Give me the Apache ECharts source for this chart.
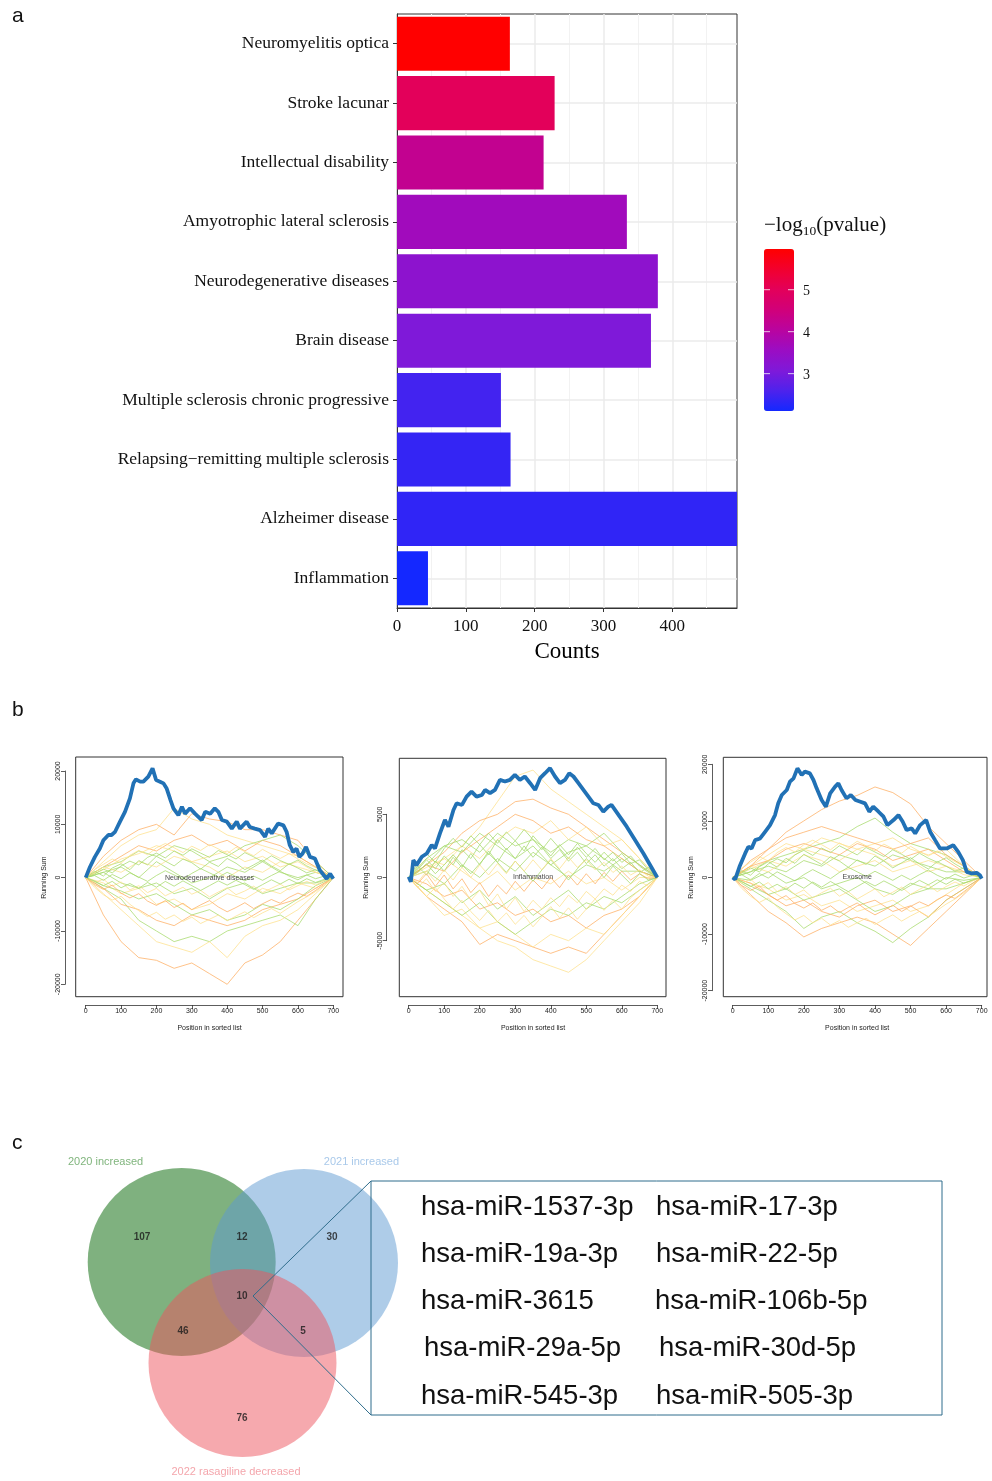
<!DOCTYPE html>
<html>
<head>
<meta charset="utf-8">
<script src="https://cdn.jsdelivr.net/npm/echarts@6/dist/echarts.min.js"></script>
<style>
  html, body { margin: 0; padding: 0; background: #fff; }
  #chart { width: 992px; height: 1481px; }
</style>
</head>
<body>
<div id="chart"></div>
<script>
// ---- panel a : disease enrichment ----
const categories = ['Neuromyelitis optica', 'Stroke lacunar', 'Intellectual disability',
  'Amyotrophic lateral sclerosis', 'Neurodegenerative diseases', 'Brain disease',
  'Multiple sclerosis chronic progressive', 'Relapsing\u2212remitting multiple sclerosis',
  'Alzheimer disease', 'Inflammation'];
const counts = [164, 229, 213, 334, 379, 369, 151, 165, 494, 45];
const logP = [5.97, 5.01, 4.23, 3.65, 3.31, 3.08, 2.50, 2.38, 2.34, 2.11];
const countTicks = [0, 100, 200, 300, 400];
const countMinor = [50, 150, 250, 350, 450];
const colorbarTicks = [5, 4, 3];
const fillStops = ['#1428FF', '#4E22EC', '#7F19D9', '#9B0DC3', '#B9049F', '#D10079', '#E3005A', '#F2002E', '#FF0000'];

// ---- panel b : running sums ----
const bgX = [0, 50, 100, 150, 200, 250, 300, 350, 400, 450, 500, 550, 600, 650, 700];
const fineX = [0, 25, 50, 75, 100, 125, 150, 175, 200, 225, 250, 275, 300, 325, 350, 375, 400,
  425, 450, 475, 500, 525, 550, 575, 600, 625, 650, 675, 700];
const setNames = ['Neurodegenerative diseases', 'Inflammation', 'Exosome'];

const neuroBlue = [[0,0],[5,-300],[12,2000],[26,3900],[40,5450],[50,7000],[64,8000],[73,8000],[83,8600],[97,10500],
  [111,12350],[125,14860],[135,17680],[142,18430],[154,18000],[163,18000],[177,18930],[189,20500],[199,18300],
  [210,18000],[220,17680],[229,16700],[240,14500],[248,13000],[262,11700],[272,13300],[281,12000],[295,13000],
  [309,12000],[328,10800],[338,12350],[352,12000],[365,13000],[375,12350],[385,10800],[399,10500],[413,9200],
  [427,10500],[436,9200],[455,10500],[464,9500],[478,9200],[493,8900],[507,7650],[516,9200],[526,8300],
  [544,10150],[559,9800],[568,8600],[577,6080],[587,4800],[596,5450],[604,3900],[613,4500],[623,5770],
  [634,3900],[648,3600],[662,1400],[681,-200],[691,750],[700,-200]];
const inflBlue = [[0,50],[6,-340],[13,1375],[22,980],[37,1640],[51,1900],[65,2570],[74,2300],[88,3490],[102,4550],
  [112,4020],[126,5340],[135,5870],[150,5740],[163,6400],[177,6800],[191,6400],[206,6530],[215,6930],[229,6670],
  [243,6930],[257,7720],[271,7590],[285,7720],[299,8120],[313,7720],[327,7990],[342,7460],[356,6930],[370,7860],
  [384,8250],[398,8650],[412,7990],[426,7460],[440,7720],[452,8250],[464,7990],[478,7460],[492,6930],[520,5870],
  [534,5740],[548,5210],[562,5610],[571,5740],[614,4020],[661,1900],[700,0]];
const exoBlue = [[0,0],[7,-350],[19,1890],[35,4250],[44,5430],[53,5130],[63,6600],[77,6900],[91,8080],[105,9260],
  [119,11030],[128,13100],[138,14570],[152,15460],[161,16930],[171,17520],[182,19290],[194,18110],[203,18700],
  [217,18400],[227,17230],[236,15750],[250,13690],[262,12510],[274,14870],[288,16050],[297,16640],[306,15460],
  [320,13980],[332,14570],[345,13690],[359,13390],[372,13100],[384,11620],[395,12510],[410,11620],[424,10740],
  [435,9260],[452,10150],[466,11030],[478,9850],[489,8380],[503,8670],[513,7790],[527,9260],[544,10150],
  [555,8080],[569,6600],[583,5130],[602,5130],[620,5720],[634,4540],[647,3070],[658,1000],[672,710],[686,830],
  [695,410],[700,-180]];

// coarse background walks (x = bgX)
const neuroBg = [
  [0,-7000,-12000,-15000,-15500,-17000,-16000,-18000,-20000,-16000,-14500,-12000,-8000,-4000,0],
  [0,3000,6000,8000,9000,13000,11000,10000,8000,7000,6000,5000,4000,2000,0],
  [0,4000,7000,9000,10000,8000,12000,11000,10500,9000,9000,8000,7000,3000,0],
  [0,-2000,-4000,-8000,-10000,-12000,-11000,-12000,-10000,-9000,-8000,-7000,-9000,-4000,0],
  [0,1000,2000,0,3000,1000,-1000,0,2000,1000,3000,1000,0,1000,0],
  [0,-1000,-3000,-2000,-5000,-4000,-6000,-5000,-3000,-4000,-2000,-3000,-1000,-2000,0],
  [0,2000,4000,6000,5000,7000,8000,6000,7000,5000,7000,6000,4000,2000,0],
  [0,2000,3000,5000,4000,6000,5000,3000,4000,6000,7000,8000,6000,3000,0],
  [0,-3000,-6000,-9000,-12000,-13000,-14000,-12000,-15000,-11000,-9000,-8000,-6000,-3000,0],
  [0,-2000,-5000,-6000,-8000,-9000,-7000,-8000,-9000,-8000,-6000,-5000,-4000,-2000,0],
  [0,1000,-1000,-2000,-1000,-3000,-2000,-4000,-2000,-1000,-3000,-2000,-1000,-1000,0],
  [0,2000,1000,3000,2000,4000,3000,2000,0,2000,1000,3000,2000,1000,0],
  [0,-1500,-2500,-4000,-3000,-5000,-7000,-6000,-8000,-7000,-5000,-6000,-4000,-1500,0],
  [0,1500,3500,4500,6000,5000,3000,4000,5000,3000,4000,2000,3000,1000,0]
];
const inflBg = [
  [0,800,1500,2500,4000,6000,8000,8500,7000,6000,5000,4000,3000,1500,0],
  [0,1000,2000,3500,4500,5000,6000,6200,5500,5000,4000,3000,2000,1000,0],
  [0,-1000,-2000,-3000,-4000,-5000,-5500,-6500,-7000,-7500,-6500,-5000,-3500,-2000,0],
  [0,-1500,-2500,-3500,-5300,-4500,-5000,-5500,-6000,-5500,-6000,-4500,-3000,-1500,0],
  [0,1000,2500,3000,2000,3500,2500,3000,2000,3000,2500,3500,2000,1000,0],
  [0,-1000,-500,-2000,-1000,-2500,-1500,-3000,-2000,-1000,-2500,-1500,-2000,-1000,0],
  [0,1500,1000,2500,1500,3000,4000,3500,4500,3000,4000,2500,3000,1500,0],
  [0,-500,-1500,-1000,-2500,-2000,-3000,-2500,-3500,-3000,-4000,-3000,-2500,-1500,0],
  [0,500,-500,1000,0,1500,500,2000,1000,0,1000,500,1500,500,0],
  [0,-1500,-3000,-2500,-4000,-3500,-4500,-5500,-4500,-5000,-4000,-4500,-3000,-1500,0],
  [0,1500,2500,2000,3500,2500,1500,2500,1000,2000,2500,1500,500,500,0],
  [0,1000,500,2000,3000,4000,5000,4500,3500,4000,3000,2500,1500,500,0],
  [0,-1000,-2000,-3000,-2000,-3500,-4500,-3500,-2500,-3000,-2000,-2500,-1500,-500,0],
  [0,500,1500,500,-500,500,-1000,0,-500,500,-500,0,-1000,0,0]
];
const exoBg = [
  [0,2000,5000,8000,10000,12000,13500,14500,16000,15000,13000,9000,6000,3000,0],
  [0,1000,3000,4000,5000,6000,7000,9000,10500,8000,6000,5000,4000,2000,0],
  [0,-3000,-6000,-8000,-10500,-9000,-8000,-7000,-8000,-10000,-12000,-9000,-6000,-3000,0],
  [0,-2000,-4000,-6000,-9000,-7000,-6000,-8000,-9500,-11500,-9000,-7000,-4000,-2000,0],
  [0,2000,4000,6000,5000,7000,6000,5000,6000,7000,5000,4000,5000,2000,0],
  [0,3000,5000,7000,8000,9000,8000,7000,6000,5000,6000,7000,4000,2000,0],
  [0,1000,2000,1000,3000,2000,4000,3000,2000,4000,3000,2000,1000,1000,0],
  [0,-1000,-2000,-4000,-3000,-5000,-4000,-6000,-5000,-4000,-6000,-5000,-3000,-1000,0],
  [0,-500,1000,-1000,0,-2000,-1000,0,-2000,-3000,-1000,-2000,0,-500,0],
  [0,-1000,-3000,-5000,-4000,-6000,-7000,-5000,-4000,-6000,-5000,-7000,-4000,-2000,0],
  [0,1500,3000,2000,4000,3000,1000,2000,3000,1000,2000,3000,2000,500,0],
  [0,-1500,-3000,-2000,-4000,-3000,-2000,-4000,-6000,-5000,-3000,-2000,-2000,-1000,0],
  [0,2000,1000,3000,5000,4000,3000,5000,4000,2000,3000,1000,2000,1000,0],
  [0,2000,3000,5000,6000,5000,4000,6000,5000,3000,4000,5000,3000,1000,0]
];
// finer background walks in the central band (x = fineX)
const neuroFine = [
  [0,1200,300,1800,2600,1500,3200,2400,4000,3100,2200,3500,2800,1600,2900,2100,3600,2700,1500,2400,3300,2200,1300,2600,1800,900,1500,600,0],
  [0,-900,-300,-1600,-800,-2300,-1500,-2800,-2000,-3400,-2600,-1800,-3100,-2400,-3600,-2700,-1900,-3200,-2500,-1600,-2800,-2000,-1200,-2300,-1500,-700,-1400,-500,0],
  [0,700,1600,900,2200,3100,2400,3800,4600,3700,5000,4200,5400,4600,3800,5100,4300,3500,4700,3900,3000,4100,3200,2500,3300,2200,1400,800,0],
  [0,-1300,-2200,-1400,-2900,-3800,-3000,-4400,-5200,-4300,-5600,-4800,-6000,-5100,-4300,-5500,-6400,-5600,-4700,-5800,-4900,-4100,-4800,-3700,-2900,-3500,-2400,-1200,0],
  [0,400,-500,600,-200,900,100,-700,400,1300,500,-300,800,1700,900,100,1000,200,-600,300,-500,400,1200,300,-400,500,-200,300,0],
  [0,1500,2500,3500,2700,4200,5100,4300,5600,6400,5600,4700,5900,5100,6200,5400,4500,5700,4900,4100,5300,4400,3600,4500,3500,2600,1900,900,0],
  [0,-600,-1500,-700,-1900,-1100,-2000,-900,-1800,-700,-1600,-600,-1500,-2400,-1500,-600,-1400,-500,-1300,-2200,-1300,-400,-1200,-300,-1100,-200,-900,-300,0],
  [0,-1800,-3200,-4200,-3500,-5000,-6200,-7300,-6500,-7800,-7000,-8200,-7400,-8600,-7800,-7000,-8100,-7200,-6400,-7500,-6600,-5800,-6700,-5600,-4500,-3600,-2600,-1400,0]
];
const inflFine = [
  [0,900,200,1300,500,1600,800,1900,1000,2100,1200,2300,1500,2500,1600,2400,1500,2200,1300,2000,1100,1800,900,1500,700,1200,400,800,0],
  [0,-800,-100,-1100,-400,-1500,-700,-1800,-1000,-2200,-1300,-2500,-1600,-2700,-1800,-2500,-1600,-2300,-1400,-2000,-1100,-1700,-900,-1400,-600,-1100,-300,-700,0],
  [0,600,1400,700,1700,1000,2200,1500,2600,1800,3000,2200,2900,2100,3300,2500,1700,2600,1800,2700,1900,1200,2000,1300,1900,1100,1400,600,0],
  [0,-500,300,-700,200,-900,-100,-1200,-400,-1500,-600,-1300,-300,-1100,-200,-900,0,-800,200,-600,300,-500,400,-300,500,-200,300,-100,0],
  [0,400,1100,300,1000,1800,1000,300,1100,1900,1200,400,1300,500,-300,600,1400,600,-200,700,1500,800,0,900,200,-500,300,-200,0],
  [0,-700,-1500,-800,-1700,-2500,-1800,-2700,-3400,-2600,-3500,-2800,-3700,-3000,-3900,-3100,-2300,-3200,-2400,-3300,-2500,-1700,-2600,-1800,-2500,-1600,-1000,-500,0],
  [0,1100,1900,1200,2300,3100,2400,3300,2600,3500,2700,3600,2900,3800,3000,2200,3100,2300,1500,2400,1600,2300,1400,2000,1200,1700,900,400,0],
  [0,-400,500,-300,600,-200,800,0,1000,200,1100,300,1300,500,1400,600,1500,700,1600,800,1400,600,1200,400,900,200,600,100,0]
];
const exoFine = [
  [0,1200,400,1900,2800,1800,3400,2500,4100,3200,2300,3700,2900,1800,3100,2300,3800,2900,1700,2600,3500,2400,1500,2800,2000,1100,1700,700,0],
  [0,-1000,-300,-1700,-900,-2500,-1600,-3000,-2200,-3600,-2700,-1900,-3300,-2500,-3800,-2900,-2000,-3400,-2600,-1700,-3000,-2100,-1300,-2500,-1600,-800,-1500,-600,0],
  [0,800,1700,1000,2400,3300,2600,4000,4800,3900,5200,4400,5600,4800,4000,5300,4500,3700,4900,4100,3200,4300,3400,2700,3500,2400,1500,900,0],
  [0,-1400,-2300,-1500,-3100,-4000,-3200,-4600,-5400,-4500,-5800,-5000,-6200,-5300,-4500,-5700,-6600,-5800,-4900,-6000,-5100,-4300,-5000,-3900,-3100,-3700,-2500,-1300,0],
  [0,500,-400,700,-100,1000,200,-600,500,1400,600,-200,900,1800,1000,200,1100,300,-500,400,-400,500,1300,400,-300,600,-100,400,0],
  [0,1600,2700,3700,2900,4400,5300,4500,5800,6600,5800,4900,6100,5300,6400,5600,4700,5900,5100,4300,5500,4600,3800,4700,3700,2800,2000,1000,0],
  [0,-700,-1600,-800,-2000,-1200,-2100,-1000,-1900,-800,-1700,-700,-1600,-2500,-1600,-700,-1500,-600,-1400,-2300,-1400,-500,-1300,-400,-1200,-300,-1000,-400,0],
  [0,-1900,-3300,-4400,-3600,-5200,-6400,-7500,-6700,-8000,-7200,-8400,-7600,-8800,-8000,-7200,-8300,-7400,-6600,-7700,-6800,-6000,-6900,-5800,-4700,-3800,-2700,-1500,0]
];
// colour class of each walk: o = orange, y = yellow, g = green
const neuroBgCls = ['o','y','o','g','g','y','o','g','y','o','g','y','g','y'];
const inflBgCls  = ['y','o','y','o','g','g','y','o','g','y','g','o','g','y'];
const exoBgCls   = ['o','g','o','g','y','o','g','y','g','o','y','g','y','o'];
const fineCls    = ['g','y','g','o','g','y','g','y'];

// ---- panel c : venn ----
const vennNames = ['2020 increased', '2021 increased', '2022 rasagiline decreased'];
const vennCircles = [[121.7, 122, 94], [244, 123, 94], [182.5, 223, 94]];
const vennCounts = [[82, 97, 107], [182, 97, 12], [272, 97, 30], [182, 156, 10], [123, 191, 46], [243, 191, 5], [182, 278, 76]];
const mirCol1 = ['hsa-miR-1537-3p', 'hsa-miR-19a-3p', 'hsa-miR-3615', 'hsa-miR-29a-5p', 'hsa-miR-545-3p'];
const mirCol2 = ['hsa-miR-17-3p', 'hsa-miR-22-5p', 'hsa-miR-106b-5p', 'hsa-miR-30d-5p', 'hsa-miR-505-3p'];

const serif = 'Liberation Serif';
const sans = 'Liberation Sans';
const walkColor = { o: '#FDAE61', y: '#FEE08B', g: '#A6D96A' };

let chart = echarts.init(document.getElementById('chart'));

// layout of the three running-sum plots (grid = tick range, box = R plot frame)
const bLayout = [
  { left: 85.7, top: 771, width: 247.6, height: 213.3, yMin: -20000, yMax: 20000, yStep: 10000,
    box: [75.7, 757, 343, 996.7], yOff: 20.7, xOff: 20.7 },
  { left: 408.7, top: 814.3, width: 248.6, height: 126.4, yMin: -5000, yMax: 5000, yStep: 5000,
    box: [399.3, 758.3, 666, 996.7], yOff: 22, xOff: 64.3 },
  { left: 732.7, top: 764.3, width: 249, height: 226.4, yMin: -20000, yMax: 20000, yStep: 10000,
    box: [723.3, 757.3, 987, 996.7], yOff: 20.7, xOff: 14.3 }
];
const blues = [neuroBlue, inflBlue, exoBlue];
const bgs = [neuroBg, inflBg, exoBg];
const fines = [neuroFine, inflFine, exoFine];
const bgCls = [neuroBgCls, inflBgCls, exoBgCls];

let grids = [{ left: 397, top: 14, width: 340, height: 594, show: true, borderColor: '#333', borderWidth: 1, outerBoundsMode: 'none' }];
let xAxes = [
  { gridIndex: 0, type: 'value', min: 0, max: 494, position: 'bottom',
    axisLine: { show: true, onZero: false, lineStyle: { color: '#333' } },
    axisTick: { show: true, length: 4, customValues: countTicks, lineStyle: { color: '#333' } },
    axisLabel: { customValues: countTicks, margin: 10, fontFamily: serif, fontSize: 17, color: '#111' },
    splitLine: { show: true, lineStyle: { color: '#EBEBEB', width: 1.5 } },
    name: 'Counts', nameLocation: 'middle', nameGap: 32, nameMoveOverlap: false,
    nameTextStyle: { fontFamily: serif, fontSize: 23, color: '#000' } }
];
let yAxes = [
  { gridIndex: 0, type: 'category', data: categories, inverse: true,
    axisLine: { show: true, onZero: false, lineStyle: { color: '#333' } },
    axisTick: { show: true, alignWithLabel: true, length: 4, lineStyle: { color: '#333' } },
    axisLabel: { margin: 8, fontFamily: serif, fontSize: 17.5, color: '#111' },
    splitLine: { show: false } }
];
// panel grid lines: minor verticals and horizontal lines through each category
const gridLineData = countMinor.map(v => ({ xAxis: v, lineStyle: { color: '#F2F2F2', width: 1, type: 'solid' } }))
  .concat(categories.map((c, i) => ({ yAxis: i, lineStyle: { color: '#EBEBEB', width: 1.5, type: 'solid' } })));
let series = [
  { type: 'line', xAxisIndex: 0, yAxisIndex: 0, data: [], z: 0, zlevel: 0, silent: true,
    markLine: { silent: true, symbol: 'none', z: 0, label: { show: false }, animation: false, data: gridLineData } },
  { type: 'bar', xAxisIndex: 0, yAxisIndex: 0, barCategoryGap: '9%', z: 5,
    encode: { x: 0, y: 1 },
    data: categories.map((c, i) => [counts[i], i, logP[i]]) }
];
let graphics = [];

bLayout.forEach((L, p) => {
  grids.push({ left: L.left, top: L.top, width: L.width, height: L.height, outerBoundsMode: 'none' });
  const axText = { fontFamily: sans, fontSize: 7, color: '#222' };
  xAxes.push({ gridIndex: p + 1, type: 'value', min: 0, max: 700, interval: 100, offset: L.xOff, position: 'bottom',
    axisLine: { show: true, onZero: false, lineStyle: { color: '#333', width: 0.8 } },
    axisTick: { show: true, length: 4, lineStyle: { color: '#333', width: 0.8 } },
    axisLabel: Object.assign({ margin: 3, formatter: v => String(v) }, axText),
    splitLine: { show: false },
    name: 'Position in sorted list', nameLocation: 'middle', nameGap: 20, nameMoveOverlap: false,
    nameTextStyle: axText });
  yAxes.push({ gridIndex: p + 1, type: 'value', min: L.yMin, max: L.yMax, interval: L.yStep, offset: L.yOff, position: 'left',
    axisLine: { show: true, onZero: false, lineStyle: { color: '#333', width: 0.8 } },
    axisTick: { show: true, length: 4, lineStyle: { color: '#333', width: 0.8 } },
    axisLabel: Object.assign({ margin: 3, rotate: 90, formatter: v => String(v) }, axText),
    splitLine: { show: false },
    name: 'Running Sum', nameLocation: 'middle', nameGap: 17, nameMoveOverlap: false,
    nameTextStyle: axText });
  const ax = p + 1;
  bgs[p].forEach((ys, k) => {
    series.push({ type: 'line', xAxisIndex: ax, yAxisIndex: ax, symbol: 'none', clip: false, silent: true,
      z: 1, lineStyle: { width: 1, color: walkColor[bgCls[p][k]], opacity: 0.75 },
      data: bgX.map((x, i) => [x, ys[i]]) });
  });
  fines[p].forEach((ys, k) => {
    series.push({ type: 'line', xAxisIndex: ax, yAxisIndex: ax, symbol: 'none', clip: false, silent: true,
      z: 1, lineStyle: { width: 1, color: walkColor[fineCls[k]], opacity: 0.75 },
      data: fineX.map((x, i) => [x, ys[i]]) });
  });
  series.push({ type: 'line', xAxisIndex: ax, yAxisIndex: ax, symbol: 'none', clip: false, silent: true,
    z: 3, lineStyle: { width: 3.8, color: '#2171B5' }, data: blues[p] });
  series.push({ type: 'scatter', xAxisIndex: ax, yAxisIndex: ax, symbolSize: 1, z: 4, silent: true,
    itemStyle: { color: 'transparent' },
    label: { show: true, position: 'inside', formatter: setNames[p], fontFamily: sans, fontSize: 7, color: '#111' },
    data: [[350, 0]] });
  const b = L.box;
  graphics.push({ type: 'rect', shape: { x: b[0], y: b[1], width: b[2] - b[0], height: b[3] - b[1] },
    style: { fill: 'transparent', stroke: '#333', lineWidth: 1 }, z: 10 });
});

// venn grid (units = pixels of the panel)
grids.push({ left: 60, top: 1140, width: 360, height: 340, outerBoundsMode: 'none' });
xAxes.push({ gridIndex: 4, type: 'value', min: 0, max: 360, show: false });
yAxes.push({ gridIndex: 4, type: 'value', min: 0, max: 340, inverse: true, show: false });
const vennFill = ['#006400', '#5D99D1', '#ED535D'];
series.push({
  type: 'custom', xAxisIndex: 4, yAxisIndex: 4, silent: true, z: 2,
  data: vennCircles,
  renderItem: (params, api) => {
    const c = api.coord([api.value(0), api.value(1)]);
    const r = api.size([api.value(2), 0])[0];
    return { type: 'circle', shape: { cx: c[0], cy: c[1], r: r },
      style: { fill: vennFill[params.dataIndex], opacity: 0.5 } };
  }
});
series.push({
  type: 'scatter', xAxisIndex: 4, yAxisIndex: 4, symbolSize: 1, silent: true, z: 5,
  itemStyle: { color: 'transparent' },
  label: { show: true, position: 'inside', formatter: p => String(p.value[2]),
    fontFamily: sans, fontSize: 10, fontWeight: 'bold', color: '#1a1a1a' },
  data: vennCounts
});

// colorbar ticks / labels / title
const cbTop = 249, cbH = 162, cbMin = logP[logP.length - 1], cbMax = logP[0];
colorbarTicks.forEach(v => {
  const y = cbTop + (cbMax - v) / (cbMax - cbMin) * cbH;
  graphics.push({ type: 'line', shape: { x1: 764, y1: y, x2: 770, y2: y }, style: { stroke: 'rgba(255,255,255,0.75)', lineWidth: 1 }, z: 20 });
  graphics.push({ type: 'line', shape: { x1: 788, y1: y, x2: 794, y2: y }, style: { stroke: 'rgba(255,255,255,0.75)', lineWidth: 1 }, z: 20 });
  graphics.push({ type: 'text', x: 803, y: y + 2, style: { text: String(v), fontFamily: serif, fontSize: 14, fill: '#111', textVerticalAlign: 'middle' }, z: 20 });
});
graphics.push({ type: 'text', x: 764, y: 212, z: 20, style: {
  text: '{n|\u2212log}{s|10}{n|(pvalue)}',
  rich: { n: { fontFamily: serif, fontSize: 21, lineHeight: 26, fill: '#111' },
          s: { fontFamily: serif, fontSize: 13.5, lineHeight: 13, verticalAlign: 'bottom', fill: '#111' } } } });

// panel letters
[['a', 12, 16], ['b', 12, 710], ['c', 12, 1143]].forEach(t => {
  graphics.push({ type: 'text', x: t[1], y: t[2], style: { text: t[0], fontFamily: sans, fontSize: 21, fill: '#111', textVerticalAlign: 'middle' } });
});

// venn set names
graphics.push({ type: 'text', x: 68, y: 1162, style: { text: vennNames[0], fontFamily: sans, fontSize: 11, fill: '#80B57D', textVerticalAlign: 'middle' } });
graphics.push({ type: 'text', x: 399, y: 1162, style: { text: vennNames[1], fontFamily: sans, fontSize: 11, fill: '#A9C9EA', textAlign: 'right', textVerticalAlign: 'middle' } });
graphics.push({ type: 'text', x: 236, y: 1472, style: { text: vennNames[2], fontFamily: sans, fontSize: 11, fill: '#F4A6AC', textAlign: 'center', textVerticalAlign: 'middle' } });

// callout and miRNA box
graphics.push({ type: 'polyline', shape: { points: [[371, 1181], [253, 1296], [371, 1415]] }, style: { stroke: '#2F6D8C', lineWidth: 1, fill: null }, z: 20 });
graphics.push({ type: 'rect', shape: { x: 371, y: 1181, width: 571, height: 234 }, style: { fill: 'transparent', stroke: '#2F6D8C', lineWidth: 1 }, z: 20 });
const rowY = [1207, 1254, 1301, 1348, 1396];
const col1X = [421, 421, 421, 424, 421];
const col2X = [656, 656, 655, 659, 656];
mirCol1.forEach((m, i) => {
  graphics.push({ type: 'text', x: col1X[i], y: rowY[i], style: { text: m, fontFamily: sans, fontSize: 27.5, fill: '#111', textVerticalAlign: 'middle' }, z: 20 });
  graphics.push({ type: 'text', x: col2X[i], y: rowY[i], style: { text: mirCol2[i], fontFamily: sans, fontSize: 27.5, fill: '#111', textVerticalAlign: 'middle' }, z: 20 });
});

let option = {
  animation: false,
  backgroundColor: '#fff',
  textStyle: { fontFamily: sans },
  grid: grids,
  xAxis: xAxes,
  yAxis: yAxes,
  visualMap: {
    type: 'continuous', min: cbMin, max: cbMax, dimension: 2, seriesIndex: 1,
    inRange: { color: fillStops }, left: 764, top: 249, itemWidth: 30, itemHeight: cbH,
    calculable: false, text: null, padding: 0, hoverLink: false
  },
  series: series,
  graphic: graphics
};
chart.setOption(option);
</script>
</body>
</html>
